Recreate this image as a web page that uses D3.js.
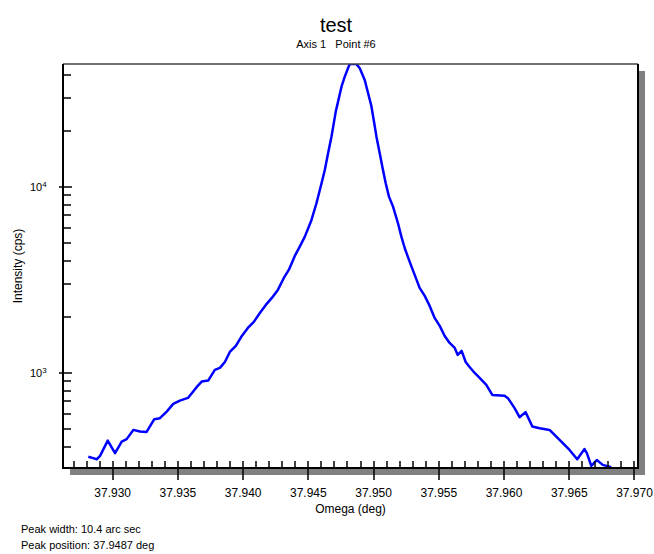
<!DOCTYPE html>
<html>
<head>
<meta charset="utf-8">
<script src="https://cdn.jsdelivr.net/npm/d3@7"></script>
<style>
    body { margin: 0; background: #fff; }
    text { font-family: Arial, "Liberation Sans", sans-serif; fill: #000; }
</style>
</head>
<body>
<svg id="chart" width="654" height="554"></svg>
<script>
// scan data: omega (deg) and intensity (cps)
var omega = [
    37.92813, 37.92851, 37.92877, 37.92903, 37.92962, 37.93018, 37.93069, 37.93107,
    37.93158, 37.93209, 37.93260, 37.93319, 37.93362, 37.93414, 37.93464, 37.93515,
    37.93577, 37.93643, 37.93682, 37.93732, 37.93783, 37.93822, 37.93860, 37.93898,
    37.93944, 37.93990, 37.94036, 37.94082, 37.94128, 37.94174, 37.94220, 37.94266,
    37.94312, 37.94350, 37.94396, 37.94434, 37.94473, 37.94524, 37.94562, 37.94601,
    37.94626, 37.94651, 37.94677, 37.94710, 37.94754, 37.94779, 37.94804, 37.94817,
    37.94843, 37.94869, 37.94894, 37.94932, 37.94958, 37.94984, 37.95001, 37.95022,
    37.95047, 37.95072, 37.95093, 37.95118, 37.95149, 37.95187, 37.95213, 37.95239,
    37.95277, 37.95315, 37.95353, 37.95392, 37.95430, 37.95468, 37.95507, 37.95545,
    37.95583, 37.95622, 37.95645, 37.95675, 37.95706, 37.95736, 37.95775, 37.95813,
    37.95864, 37.95910, 37.96004, 37.96030, 37.96081, 37.96119, 37.96165, 37.96217,
    37.96273, 37.96349, 37.96426, 37.96502, 37.96561, 37.96617, 37.96635, 37.96669,
    37.96711, 37.96757, 37.96822
];
var intensity = [
    353, 347, 342, 357, 431, 369, 426, 439,
    492, 482, 480, 562, 569, 617, 679, 707,
    731, 835, 895, 906, 1034, 1060, 1141, 1292,
    1392, 1575, 1739, 1874, 2094, 2312, 2522, 2784,
    3229, 3566, 4240, 4757, 5385, 6622, 8142, 10430,
    12297, 15122, 18569, 25311, 34485, 39030, 43300, 45600,
    45660, 45600, 43300, 37470, 31780, 26920, 22840, 18570,
    15120, 12300, 10430, 8837, 7809, 6357, 5385, 4665,
    3937, 3353, 2854, 2585, 2284, 1968, 1783, 1575,
    1444, 1358, 1245, 1308, 1141, 1073, 996, 937,
    859, 759, 752, 729, 644, 576, 613, 513,
    502, 492, 435, 384, 342, 388, 369, 315,
    339, 319, 310
];

var xMajorTicks = [37.930, 37.935, 37.940, 37.945, 37.950, 37.955, 37.960, 37.965, 37.970];
var xMinorTicks = [37.927, 37.928, 37.929, 37.931, 37.932, 37.933, 37.934, 37.936, 37.937, 37.938, 37.939,
    37.941, 37.942, 37.943, 37.944, 37.946, 37.947, 37.948, 37.949, 37.951, 37.952, 37.953, 37.954,
    37.956, 37.957, 37.958, 37.959, 37.961, 37.962, 37.963, 37.964, 37.966, 37.967, 37.968, 37.969];
var yMajorTicks = [1000, 10000];
var yMajorLabels = ["3", "4"];
var yMinorTicks = [400, 500, 600, 700, 800, 900, 2000, 3000, 4000, 5000, 6000, 7000, 8000, 9000,
    20000, 30000, 40000];

var titleText = "test";
var subtitleText = "Axis 1   Point #6";
var xTitle = "Omega (deg)";
var yTitle = "Intensity (cps)";
var notes = ["Peak width: 10.4 arc sec", "Peak position: 37.9487 deg"];

var svg = d3.select("#chart");
var plotL = 63, plotR = 638, plotT = 64, plotB = 468;

var x = d3.scaleLinear()
    .domain([37.92619, 37.97027])
    .range([plotL, plotR]);

var y = d3.scaleLog()
    .domain([307, 45660])
    .range([plotB, plotT]);

// drop shadow behind the frame
svg.append("rect")
    .attr("x", plotL + 7)
    .attr("y", plotT + 7)
    .attr("width", plotR - plotL)
    .attr("height", plotB - plotT)
    .style("fill", "#808080");

svg.append("rect")
    .attr("x", plotL)
    .attr("y", plotT)
    .attr("width", plotR - plotL)
    .attr("height", plotB - plotT)
    .style("fill", "#fff");

svg.append("clipPath")
    .attr("id", "plotclip")
    .append("rect")
    .attr("x", plotL)
    .attr("y", plotT)
    .attr("width", plotR - plotL)
    .attr("height", plotB - plotT);

var points = omega.map(function (d, i) { return [d, intensity[i]]; });

var line = d3.line()
    .x(function (d) { return x(d[0]); })
    .y(function (d) { return y(d[1]); });

svg.append("path")
    .datum(points)
    .attr("d", line)
    .attr("clip-path", "url(#plotclip)")
    .style("fill", "none")
    .style("stroke", "#0000ff")
    .style("stroke-width", 2.5)
    .style("stroke-linejoin", "round");

// frame
svg.append("line")
    .attr("x1", plotL).attr("y1", plotT)
    .attr("x2", plotR).attr("y2", plotT)
    .style("stroke", "#444")
    .style("stroke-width", 1.5);
svg.append("line")
    .attr("x1", plotR).attr("y1", plotT)
    .attr("x2", plotR).attr("y2", plotB)
    .style("stroke", "#000")
    .style("stroke-width", 2);
svg.append("line")
    .attr("x1", plotL).attr("y1", plotT)
    .attr("x2", plotL).attr("y2", plotB + 1)
    .style("stroke", "#000")
    .style("stroke-width", 2);
svg.append("line")
    .attr("x1", plotL).attr("y1", plotB)
    .attr("x2", plotR + 1).attr("y2", plotB)
    .style("stroke", "#000")
    .style("stroke-width", 2);

// x ticks
svg.selectAll("line.xminor")
    .data(xMinorTicks)
    .enter()
    .append("line")
    .attr("class", "xminor")
    .attr("x1", function (d) { return Math.round(x(d)); })
    .attr("x2", function (d) { return Math.round(x(d)); })
    .attr("y1", plotB)
    .attr("y2", plotB - 7)
    .style("stroke", "#000")
    .style("stroke-width", 1.5);

svg.selectAll("line.xmajor")
    .data(xMajorTicks)
    .enter()
    .append("line")
    .attr("class", "xmajor")
    .attr("x1", function (d) { return Math.round(x(d)); })
    .attr("x2", function (d) { return Math.round(x(d)); })
    .attr("y1", plotB - 7)
    .attr("y2", plotB + 12)
    .style("stroke", "#000")
    .style("stroke-width", 1.5);

svg.selectAll("text.xlabel")
    .data(xMajorTicks)
    .enter()
    .append("text")
    .attr("class", "xlabel")
    .attr("x", function (d) { return x(d); })
    .attr("y", 497)
    .attr("text-anchor", "middle")
    .attr("font-size", 12)
    .text(function (d) { return d.toFixed(3); });

// y ticks
svg.selectAll("line.yminor")
    .data(yMinorTicks)
    .enter()
    .append("line")
    .attr("class", "yminor")
    .attr("x1", plotL)
    .attr("x2", plotL + 8)
    .attr("y1", function (d) { return Math.round(y(d)); })
    .attr("y2", function (d) { return Math.round(y(d)); })
    .style("stroke", "#000")
    .style("stroke-width", 1.5);

svg.selectAll("line.ymajor")
    .data(yMajorTicks)
    .enter()
    .append("line")
    .attr("class", "ymajor")
    .attr("x1", plotL - 4)
    .attr("x2", plotL + 9)
    .attr("y1", function (d) { return Math.round(y(d)); })
    .attr("y2", function (d) { return Math.round(y(d)); })
    .style("stroke", "#000")
    .style("stroke-width", 1.5);

var ylab = svg.selectAll("text.ylabel")
    .data(yMajorTicks)
    .enter()
    .append("text")
    .attr("class", "ylabel")
    .attr("x", 30)
    .attr("y", function (d) { return y(d) + 4; })
    .attr("font-size", 11);
ylab.append("tspan").text("10");
ylab.append("tspan")
    .attr("dy", -4)
    .attr("font-size", 8)
    .text(function (d, i) { return yMajorLabels[i]; });

// titles
svg.append("text")
    .attr("x", 336)
    .attr("y", 32)
    .attr("text-anchor", "middle")
    .attr("font-size", 20)
    .text(titleText);

svg.append("text")
    .attr("x", 336)
    .attr("y", 48)
    .attr("text-anchor", "middle")
    .attr("font-size", 11)
    .style("white-space", "pre")
    .text(subtitleText);

svg.append("text")
    .attr("x", (plotL + plotR) / 2)
    .attr("y", 513)
    .attr("text-anchor", "middle")
    .attr("font-size", 12)
    .text(xTitle);

svg.append("text")
    .attr("transform", "translate(22," + ((plotT + plotB) / 2) + ") rotate(-90)")
    .attr("text-anchor", "middle")
    .attr("font-size", 12)
    .text(yTitle);

svg.selectAll("text.note")
    .data(notes)
    .enter()
    .append("text")
    .attr("class", "note")
    .attr("x", 21)
    .attr("y", function (d, i) { return 533 + i * 16; })
    .attr("font-size", 11)
    .text(function (d) { return d; });
</script>
</body>
</html>
